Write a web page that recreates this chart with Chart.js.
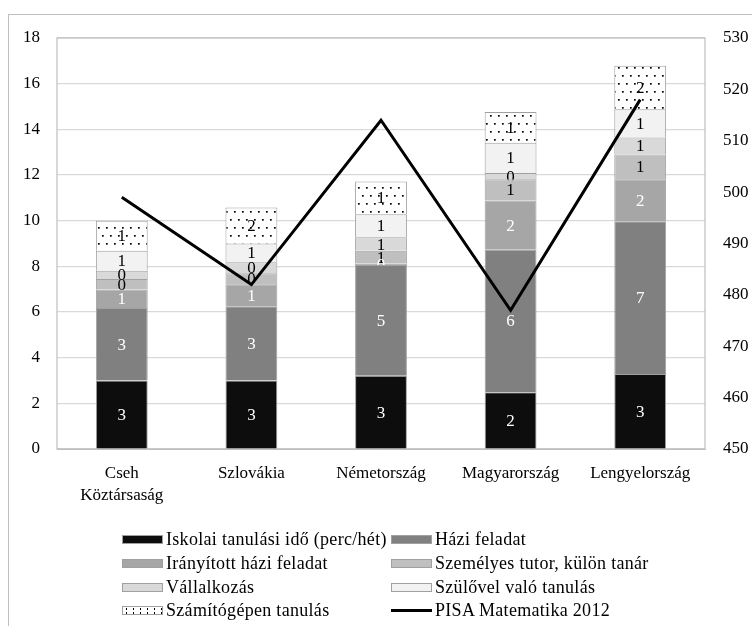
<!DOCTYPE html>
<html>
<head>
<meta charset="utf-8">
<script src="https://cdn.jsdelivr.net/npm/chart.js@4/dist/chart.umd.min.js"></script>
<style>
  body { margin: 0; background: #fff; }
  #wrap { position: relative; width: 752px; height: 626px; overflow: hidden; }
  #frame { position: absolute; left: 8px; top: 14px; width: 800px; height: 700px; border: 1.5px solid #bfbfbf; }
  #chartBox { position: absolute; left: 0; top: 0; width: 752px; height: 626px; }
  #legend { position: absolute; left: 0; top: 0; font-family: "Liberation Serif", serif; font-size: 18px; letter-spacing: 0.3px; color: #000; }
  .item { position: absolute; white-space: nowrap; display: flex; align-items: center; height: 22px; }
  .sw { width: 41px; height: 9px; border: 1px solid #a0a0a0; margin-right: 3px; box-sizing: border-box; }
  .ln { width: 41px; height: 3px; background: #000; margin-right: 3px; }
</style>
</head>
<body>
<div id="wrap">
  <div id="frame"></div>
  <div id="chartBox"><canvas id="pisaChart"></canvas></div>
  <div id="legend"></div>
</div>
<script>
var countries = [['Cseh', 'Köztársaság'], 'Szlovákia', 'Németország', 'Magyarország', 'Lengyelország'];

var iskolai     = [3.00, 3.00, 3.21, 2.48, 3.29];
var haziFeladat = [3.17, 3.25, 4.85, 6.25, 6.68];
var iranyitott  = [0.82, 0.97, 0.06, 2.15, 1.84];
var szemelyes   = [0.45, 0.48, 0.56, 0.93, 1.09];
var vallalkozas = [0.37, 0.48, 0.59, 0.28, 0.74];
var szulovel    = [0.87, 0.82, 1.01, 1.32, 1.24];
var szamitogep  = [1.32, 1.58, 1.43, 1.35, 1.90];
var pisaMatek   = [499, 482, 514, 477, 518];

var leftTicks = [0, 18, 2];
var rightTicks = [450, 530, 10];

function dotPattern() {
    var c = document.createElement('canvas');
    c.width = 8;
    c.height = 16;
    var g = c.getContext('2d');
    g.fillStyle = '#fff';
    g.fillRect(0, 0, 8, 16);
    g.fillStyle = '#000';
    g.fillRect(2, 3, 1.7, 1.7);
    g.fillRect(6, 11, 1.7, 1.7);
    return g.createPattern(c, 'repeat');
}

function barSet(label, data, color, labelColor) {
    return {
        type: 'bar',
        label: label,
        data: data,
        backgroundColor: color,
        borderColor: '#a0a0a0',
        borderWidth: 1,
        yAxisID: 'y',
        order: 1,
        labelColor: labelColor
    };
}

var datasets = [
    barSet('Iskolai tanulási idő (perc/hét)', iskolai, '#0d0d0d', '#fff'),
    barSet('Házi feladat', haziFeladat, '#808080', '#fff'),
    barSet('Irányított házi feladat', iranyitott, '#a6a6a6', '#fff'),
    barSet('Személyes tutor, külön tanár', szemelyes, '#bfbfbf', '#000'),
    barSet('Vállalkozás', vallalkozas, '#d9d9d9', '#000'),
    barSet('Szülővel való tanulás', szulovel, '#f2f2f2', '#000'),
    barSet('Számítógépen tanulás', szamitogep, dotPattern(), '#000'),
    {
        type: 'line',
        label: 'PISA Matematika 2012',
        data: pisaMatek,
        borderColor: '#000',
        borderWidth: 3,
        pointRadius: 0,
        tension: 0,
        fill: false,
        yAxisID: 'y2',
        order: 0
    }
];

// numbers inside the stacked segments, drawn before the line
var segmentLabels = {
    id: 'segmentLabels',
    afterDatasetDraw: function (chart, args) {
        var meta = args.meta;
        if (meta.type !== 'bar') return;
        var ds = chart.data.datasets[args.index];
        var ctx = chart.ctx;
        ctx.save();
        ctx.font = '17px "Liberation Serif", serif';
        ctx.fillStyle = ds.labelColor;
        ctx.textAlign = 'center';
        ctx.textBaseline = 'middle';
        meta.data.forEach(function (bar, i) {
            var p = bar.getProps(['x', 'y', 'base'], true);
            ctx.fillText(String(Math.round(ds.data[i])), p.x, (p.y + p.base) / 2 + 1);
        });
        ctx.restore();
    }
};

var plotFrame = {
    id: 'plotFrame',
    beforeDatasetsDraw: function (chart) {
        var a = chart.chartArea;
        var ctx = chart.ctx;
        ctx.save();
        ctx.strokeStyle = '#bfbfbf';
        ctx.lineWidth = 1.2;
        ctx.strokeRect(a.left, a.top, a.right - a.left, a.bottom - a.top);
        ctx.restore();
    }
};

var tickFont = { family: '"Liberation Serif", serif', size: 17, lineHeight: 1.3 };

function drawChart() {
    var ctx = document.getElementById('pisaChart').getContext('2d');

    var pisaChart = new Chart(ctx, {
        data: {
            labels: countries,
            datasets: datasets
        },
        options: {
            responsive: true,
            maintainAspectRatio: false,
            animation: false,
            layout: { padding: { top: 38, left: 0, right: 0, bottom: 0 } },
            datasets: {
                bar: { categoryPercentage: 1, barPercentage: 0.4 }
            },
            plugins: {
                legend: { display: false },
                tooltip: { enabled: false }
            },
            scales: {
                x: {
                    stacked: true,
                    grid: { display: false, drawTicks: false },
                    border: { color: '#bfbfbf' },
                    ticks: { color: '#000', font: tickFont, padding: 13, maxRotation: 0 },
                    afterFit: function (s) { s.height = 177; }
                },
                y: {
                    stacked: true,
                    position: 'left',
                    min: leftTicks[0],
                    max: leftTicks[1],
                    grid: { color: '#d9d9d9', lineWidth: 1.2, drawTicks: false },
                    border: { display: false },
                    ticks: { stepSize: leftTicks[2], color: '#000', font: tickFont, padding: 17 },
                    afterFit: function (s) { s.width = 57; }
                },
                y2: {
                    position: 'right',
                    min: rightTicks[0],
                    max: rightTicks[1],
                    grid: { display: false, drawTicks: false },
                    border: { display: false },
                    ticks: { stepSize: rightTicks[2], color: '#000', font: tickFont, padding: 18 },
                    afterFit: function (s) { s.width = 47; }
                }
            }
        },
        plugins: [plotFrame, segmentLabels]
    });
    return pisaChart;
}

function buildLegend(chart) {
    var box = document.getElementById('legend');
    var colX = [122, 391];
    var rowY = [528, 552, 576, 599];
    chart.data.datasets.forEach(function (ds, i) {
        var item = document.createElement('div');
        item.className = 'item';
        item.style.left = colX[i % 2] + 'px';
        item.style.top = rowY[Math.floor(i / 2)] + 'px';
        var sw = document.createElement('span');
        if (ds.type === 'line') {
            sw.className = 'ln';
        } else {
            sw.className = 'sw';
            if (typeof ds.backgroundColor === 'string') {
                sw.style.background = ds.backgroundColor;
            } else {
                sw.style.background = 'radial-gradient(circle, #000 0.8px, transparent 1px) 0 0 / 7px 4px, #fff';
            }
        }
        item.appendChild(sw);
        item.appendChild(document.createTextNode(ds.label));
        box.appendChild(item);
    });
}

var chart = drawChart();
buildLegend(chart);
</script>
</body>
</html>
